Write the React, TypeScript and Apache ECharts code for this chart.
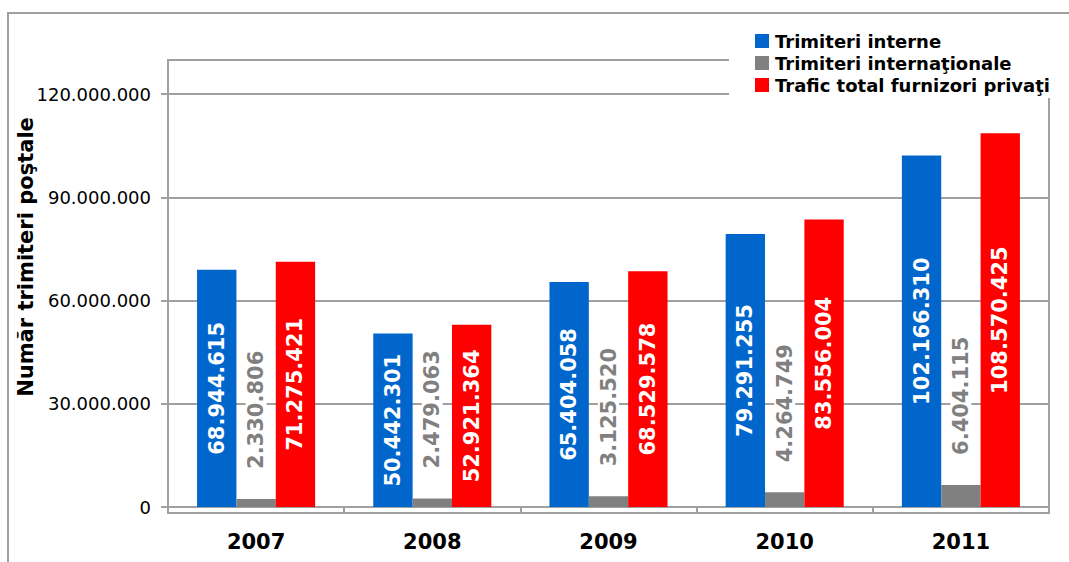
import React, { useEffect, useRef } from "react";
import * as echarts from "echarts";

const categories = ["2007", "2008", "2009", "2010", "2011"];
const interne = [68944615, 50442301, 65404058, 79291255, 102166310];
const internationale = [2330806, 2479063, 3125520, 4264749, 6404115];
const totalPrivati = [71275421, 52921364, 68529578, 83556004, 108570425];
const seriesNames = ["Trimiteri interne", "Trimiteri internaţionale", "Trafic total furnizori privaţi"];
const yTitle = "Număr trimiteri poştale";

const FONT = "DejaVu Sans";
const GRID_C = "#a0a0a0";

const fmt = (v: number) => String(Math.round(v)).replace(/\B(?=(\d{3})+(?!\d))/g, ".");

export default function App() {
  const ref = useRef<HTMLDivElement>(null);
  useEffect(() => {
    if (!ref.current) return;
    const chart = echarts.init(ref.current, null, { renderer: "svg" });
    const insideLabel = {
      show: true,
      position: "inside",
      rotate: 90,
      color: "#fff",
      fontFamily: FONT,
      fontWeight: "bold",
      fontSize: 21,
      formatter: (p: any) => fmt(p.value),
    };
    chart.setOption({
      animation: false,
      backgroundColor: "#fff",
      textStyle: { fontFamily: FONT },
      grid: { left: 168, right: 20, top: 94, bottom: 55 },
      legend: {
        orient: "vertical",
        left: 755,
        top: 32,
        itemWidth: 14,
        itemHeight: 14,
        itemGap: 4,
        icon: "rect",
        padding: 0,
        textStyle: { fontFamily: FONT, fontWeight: "bold", fontSize: 18, color: "#000", lineHeight: 18, padding: [0, 0, 0, 1] },
      },
      xAxis: {
        type: "category",
        data: categories,
        axisLine: { lineStyle: { color: GRID_C, width: 2 } },
        axisTick: { show: true, length: 6, lineStyle: { color: GRID_C, width: 2 } },
        axisLabel: { color: "#000", fontFamily: FONT, fontWeight: "bold", fontSize: 21, margin: 24 },
      },
      yAxis: {
        type: "value",
        min: 0,
        max: 120000000,
        interval: 30000000,
        axisLine: { show: true, lineStyle: { color: GRID_C, width: 2 } },
        axisTick: { show: true, length: 7, lineStyle: { color: GRID_C, width: 2 } },
        splitLine: { lineStyle: { color: GRID_C, width: 2 } },
        axisLabel: { color: "#000", fontFamily: FONT, fontSize: 18, margin: 17, formatter: (v: number) => fmt(v) },
      },
      graphic: [
        { type: "rect", z: 0, silent: true, shape: { x: 8, y: 13, width: 1100, height: 600 }, style: { fill: "none", stroke: GRID_C, lineWidth: 2 } },
        { type: "rect", z: 0, silent: true, shape: { x: 168, y: 60, width: 881, height: 453 }, style: { fill: "none", stroke: GRID_C, lineWidth: 2 } },
        { type: "rect", z: 3, silent: true, shape: { x: 729, y: 22, width: 330, height: 76 }, style: { fill: "#fff" } },
        {
          type: "text",
          z: 5,
          x: 26,
          y: 257,
          rotation: Math.PI / 2,
          style: { text: yTitle, font: `bold 21px "${FONT}"`, fill: "#000", align: "center", verticalAlign: "middle" },
        },
      ],
      series: [
        {
          name: seriesNames[0],
          type: "bar",
          data: interne,
          itemStyle: { color: "#0066cc" },
          barGap: "0%",
          barCategoryGap: "33%",
          label: insideLabel,
        },
        {
          name: seriesNames[1],
          type: "bar",
          data: internationale,
          itemStyle: { color: "#808080" },
          label: {
            show: true,
            position: "top",
            distance: 28,
            rotate: 90,
            align: "left",
            verticalAlign: "middle",
            color: "#808080",
            backgroundColor: "#fff",
            padding: [0, 2],
            fontFamily: FONT,
            fontWeight: "bold",
            fontSize: 21,
            formatter: (p: any) => fmt(p.value),
          },
        },
        {
          name: seriesNames[2],
          type: "bar",
          data: totalPrivati,
          itemStyle: { color: "#ff0000" },
          label: insideLabel,
        },
      ],
    });
    return () => chart.dispose();
  }, []);
  return <div ref={ref} style={{ position: "absolute", left: 0, top: 0, width: 1069, height: 562 }} />;
}
